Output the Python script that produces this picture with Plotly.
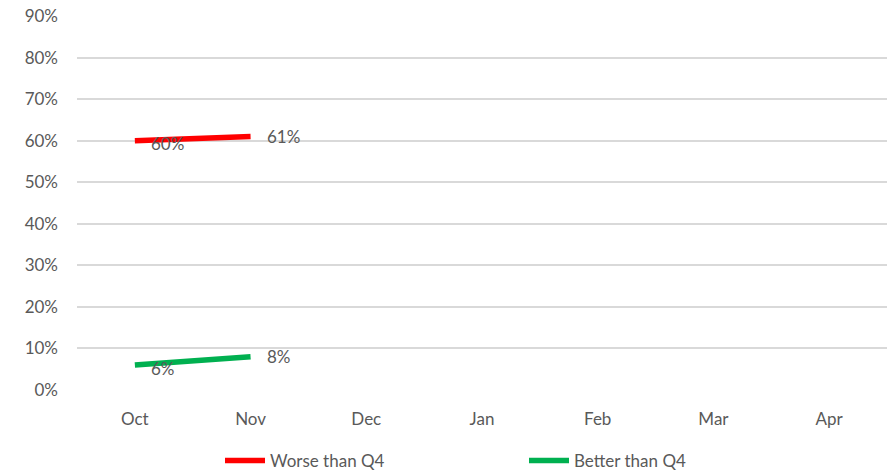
import plotly.graph_objects as go

months = ["Oct", "Nov", "Dec", "Jan", "Feb", "Mar", "Apr"]
worse_vals = [0.60, 0.61]
better_vals = [0.06, 0.08]
y_ticks = [0, 0.1, 0.2, 0.3, 0.4, 0.5, 0.6, 0.7, 0.8, 0.9]

FONT = "Lato"
GREY = "#595959"

series = [
    ("Worse than Q4", worse_vals, "#FF0000"),
    ("Better than Q4", better_vals, "#00B050"),
]

fig = go.Figure()
annotations = []

for name, vals, color in series:
    xs = months[:len(vals)]
    fig.add_trace(go.Scatter(
        x=xs,
        y=vals,
        name=name,
        mode="lines",
        line=dict(color=color, width=5.5),
        cliponaxis=False,
    ))
    # value labels sit just to the right of each point
    for i, (xv, yv) in enumerate(zip(xs, vals)):
        annotations.append(dict(
            x=xv, y=yv, xref="x", yref="y",
            text=f"{yv:.0%}",
            showarrow=False,
            xanchor="left", yanchor="middle",
            xshift=14, yshift=-3 if i == 0 else 0,
            font=dict(family=FONT, size=17, color=GREY),
        ))

fig.update_layout(
    width=887, height=472,
    margin=dict(l=77, r=0, t=16, b=82, autoexpand=False),
    paper_bgcolor="white",
    plot_bgcolor="white",
    font=dict(family=FONT, size=17, color=GREY),
    showlegend=True,
    annotations=annotations,
    legend=dict(
        orientation="h",
        xref="paper", x=(220 - 77) / 810, xanchor="left",
        yref="container", y=(472 - 461) / 472, yanchor="middle",
        entrywidth=249, entrywidthmode="pixels",
        itemwidth=40,
        font=dict(family=FONT, size=17, color=GREY),
        traceorder="normal",
    ),
    xaxis=dict(
        type="category",
        categoryorder="array",
        categoryarray=months,
        range=[-0.5, len(months) - 0.5],
        showgrid=False,
        showline=False,
        zeroline=False,
        ticks="",
        ticklabelstandoff=17,
        tickfont=dict(family=FONT, size=17, color=GREY),
    ),
    yaxis=dict(
        range=[0, 0.9],
        tickvals=y_ticks,
        tickformat=".0%",
        showgrid=True,
        gridcolor="#D9D9D9",
        gridwidth=1.5,
        zeroline=False,
        showline=False,
        ticks="",
        ticklabelstandoff=18,
        tickfont=dict(family=FONT, size=17, color=GREY),
    ),
)

fig.write_html("out.html")
